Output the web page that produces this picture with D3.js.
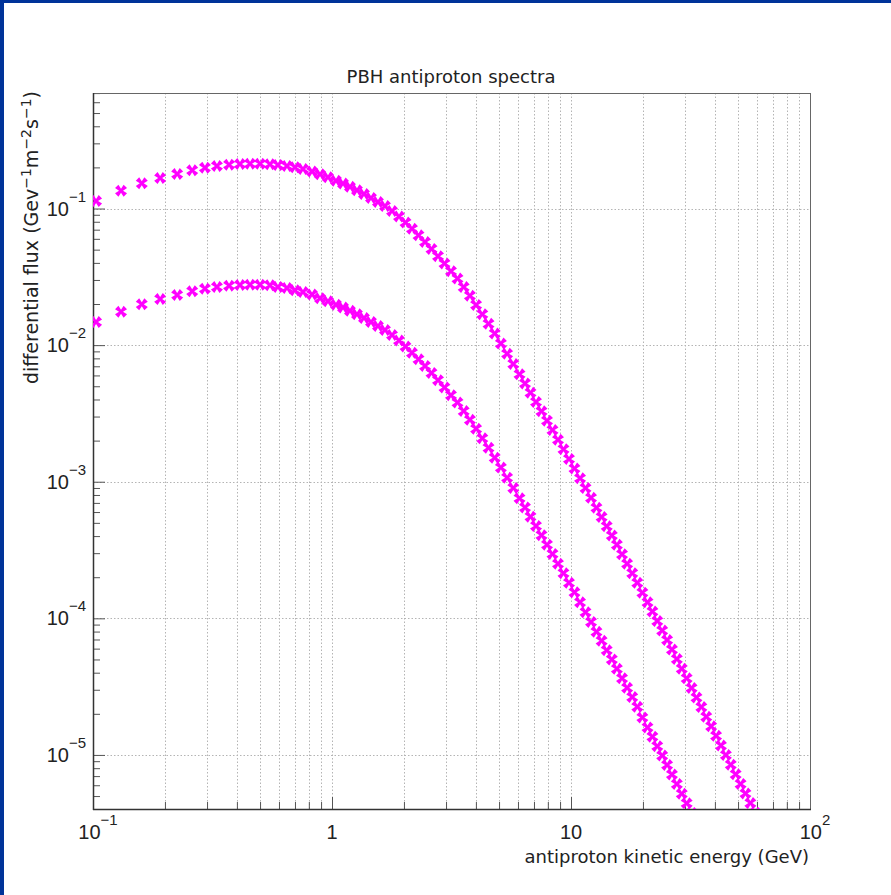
<!DOCTYPE html>
<html>
<head>
<meta charset="utf-8">
<title>PBH antiproton spectra</title>
<style>
    html, body { margin: 0; padding: 0; background: #fff; }
    svg { display: block; }
    .lbl { font-family: "Liberation Sans", Arial, sans-serif; fill: #222; }
    .ttl { font-family: "DejaVu Sans", sans-serif; fill: #222; }
</style>
</head>
<body>
<script src="https://cdn.jsdelivr.net/npm/d3@7"></script>
<script>
    // antiproton kinetic energy (GeV), one value per marker
    var energies = [
        0.103, 0.131, 0.160, 0.191, 0.225, 0.260, 0.294, 0.330, 0.371, 0.412,
        0.454, 0.500, 0.550, 0.594, 0.648, 0.700, 0.756, 0.825, 0.891, 0.962,
        1.039, 1.112, 1.189, 1.272, 1.361, 1.456, 1.557, 1.666, 1.783, 1.907,
        2.030, 2.161, 2.301, 2.450, 2.608, 2.777, 2.956, 3.147, 3.350, 3.557,
        3.776, 4.008, 4.255, 4.517, 4.795, 5.090, 5.403, 5.736, 6.089, 6.420,
        6.769, 7.138, 7.526, 7.936, 8.367, 8.823, 9.303, 9.809, 10.34, 10.91,
        11.50, 12.13, 12.78, 13.43, 14.11, 14.82, 15.56, 16.35, 17.17, 18.04,
        18.94, 19.89, 20.90, 21.91, 22.96, 24.07, 25.24, 26.45, 27.73, 29.07,
        30.48, 31.95, 33.50, 35.11, 36.81, 38.59, 40.46, 42.41, 44.47, 46.62,
        48.87, 51.23, 53.70, 56.30, 59.02
    ];
    // upper spectrum (differential flux)
    var fluxUpper = [
        0.1135, 0.1350, 0.1529, 0.1672, 0.1789, 0.1904, 0.1990, 0.2048, 0.2093, 0.2118,
        0.2128, 0.2128, 0.2113, 0.2085, 0.2048, 0.2003, 0.1946, 0.1866, 0.1780, 0.1692,
        0.1600, 0.1522, 0.1442, 0.1359, 0.1277, 0.1196, 0.1116, 0.1043, 0.0959, 0.0874,
        0.0790, 0.0711, 0.0637, 0.0569, 0.0506, 0.0448, 0.0396, 0.0348, 0.0307, 0.0266,
        0.0230, 0.0197, 0.01684, 0.01432, 0.01214, 0.01026, 0.00865, 0.00729, 0.00612, 0.00524,
        0.00449, 0.00384, 0.00328, 0.00280, 0.00239, 0.00203, 0.00173, 0.00147, 0.00125, 0.00106,
        8.99e-4, 7.62e-4, 6.45e-4, 5.52e-4, 4.72e-4, 4.04e-4, 3.45e-4, 2.94e-4, 2.51e-4, 2.14e-4,
        1.82e-4, 1.54e-4, 1.31e-4, 1.12e-4, 9.55e-5, 8.14e-5, 6.94e-5, 5.91e-5, 5.03e-5, 4.28e-5,
        3.64e-5, 3.09e-5, 2.63e-5, 2.24e-5, 1.90e-5, 1.62e-5, 1.38e-5, 1.17e-5, 9.97e-6, 8.48e-6,
        7.21e-6, 6.13e-6, 5.22e-6, 4.44e-6, 3.77e-6
    ];
    // lower spectrum (same energies, fewer points)
    var fluxLower = [
        0.01476, 0.01756, 0.01989, 0.02175, 0.02327, 0.02476, 0.02588, 0.02664, 0.02722, 0.02755,
        0.02768, 0.02768, 0.02748, 0.02667, 0.02619, 0.02519, 0.02447, 0.02347, 0.02201, 0.02092,
        0.01978, 0.01882, 0.01783, 0.01680, 0.01579, 0.01479, 0.01380, 0.01290, 0.01186, 0.01081,
        0.00977, 0.00879, 0.00788, 0.00704, 0.00626, 0.00554, 0.00490, 0.00430, 0.00380, 0.00329,
        0.00284, 0.00244, 0.00208, 0.00177, 0.00150, 0.00127, 0.00107, 9.01e-4, 7.57e-4, 6.48e-4,
        5.55e-4, 4.75e-4, 4.06e-4, 3.46e-4, 2.96e-4, 2.51e-4, 2.14e-4, 1.82e-4, 1.55e-4, 1.31e-4,
        1.11e-4, 9.42e-5, 7.97e-5, 6.84e-5, 5.84e-5, 5.00e-5, 4.27e-5, 3.64e-5, 3.10e-5, 2.65e-5,
        2.25e-5, 1.88e-5, 1.59e-5, 1.36e-5, 1.16e-5, 9.90e-6, 8.44e-6, 7.19e-6, 6.12e-6, 5.20e-6,
        4.43e-6, 3.76e-6
    ];
    // axis ranges and labelled ticks
    var xRange = [0.1, 100];
    var yRange = [4.02e-6, 0.701];
    var xTicks = [0.1, 1, 10, 100];
    var xTickLabels = [["10", "\u22121"], ["1", ""], ["10", ""], ["10", "2"]];
    var yTicks = [1e-5, 1e-4, 1e-3, 1e-2, 1e-1];
    var yTickLabels = [["10", "\u22125"], ["10", "\u22124"], ["10", "\u22123"], ["10", "\u22122"], ["10", "\u22121"]];

    var width = 891, height = 895;
    var frame = {left: 93, top: 93, right: 810, bottom: 809};
    var markerColor = "#ff00ff";

    var svg = d3.select("body").append("svg")
            .attr("width", width)
            .attr("height", height);

    svg.append("rect").attr("width", width).attr("height", height).attr("fill", "#fff");
    // blue edge of the original window
    svg.append("rect").attr("x", 0).attr("y", 0).attr("width", width).attr("height", 3).attr("fill", "#003399");
    svg.append("rect").attr("x", 0).attr("y", 0).attr("width", 4).attr("height", height).attr("fill", "#003399");

    var xScale = d3.scaleLog().domain(xRange).range([frame.left, frame.right]);
    var yScale = d3.scaleLog().domain(yRange).range([frame.bottom, frame.top]);

    // minor tick values 2..9 x 10^k inside the ranges
    function minorValues(range) {
        var out = [];
        var lo = Math.floor(Math.log10(range[0])), hi = Math.ceil(Math.log10(range[1]));
        for (var k = lo; k < hi; k++) {
            for (var m = 2; m <= 9; m++) {
                var v = m * Math.pow(10, k);
                if (v > range[0] && v < range[1]) out.push(v);
            }
        }
        return out;
    }
    var xMinor = minorValues(xRange);
    var yMinor = minorValues(yRange);

    // grid (dotted)
    var grid = svg.append("g").attr("stroke", "#b4b4b4").attr("stroke-dasharray", "1.5,2").attr("stroke-width", 1);
    grid.selectAll(".vgrid")
            .data(xMinor.concat([1, 10]))
            .enter()
            .append("line")
            .attr("class", "vgrid")
            .attr("x1", function (d) { return Math.round(xScale(d)) + 0.5; })
            .attr("x2", function (d) { return Math.round(xScale(d)) + 0.5; })
            .attr("y1", frame.top)
            .attr("y2", frame.bottom);
    grid.selectAll(".hgrid")
            .data(yTicks)
            .enter()
            .append("line")
            .attr("class", "hgrid")
            .attr("x1", frame.left)
            .attr("x2", frame.right)
            .attr("y1", function (d) { return Math.round(yScale(d)) + 0.5; })
            .attr("y2", function (d) { return Math.round(yScale(d)) + 0.5; });

    // ticks drawn with d3 axes, pointing into the frame
    function tickAxis(axis, values, size, transform) {
        var g = svg.append("g")
                .attr("transform", transform)
                .call(axis.tickValues(values).tickSize(-size).tickFormat(""));
        g.select(".domain").remove();
        g.selectAll("line").attr("stroke", "#555");
        return g;
    }
    tickAxis(d3.axisBottom(xScale), xMinor, 7, "translate(0," + frame.bottom + ")");
    tickAxis(d3.axisBottom(xScale), xTicks, 12, "translate(0," + frame.bottom + ")");
    tickAxis(d3.axisLeft(yScale), yMinor, 7, "translate(" + frame.left + ",0)");
    tickAxis(d3.axisLeft(yScale), yTicks, 12, "translate(" + frame.left + ",0)");

    // frame
    svg.append("rect")
            .attr("x", frame.left + 0.5)
            .attr("y", frame.top + 0.5)
            .attr("width", frame.right - frame.left)
            .attr("height", frame.bottom - frame.top)
            .attr("fill", "none")
            .attr("stroke", "#666")
            .attr("stroke-width", 1);
    svg.append("line")
            .attr("x1", frame.left).attr("x2", frame.right + 1)
            .attr("y1", frame.bottom + 0.5).attr("y2", frame.bottom + 0.5)
            .attr("stroke", "#333").attr("stroke-width", 1.5);
    svg.append("line")
            .attr("x1", frame.left + 0.5).attr("x2", frame.left + 0.5)
            .attr("y1", frame.top).attr("y2", frame.bottom + 1)
            .attr("stroke", "#333").attr("stroke-width", 1.5);

    // markers: thick X, clipped to the frame
    svg.append("clipPath").attr("id", "frameClip")
            .append("rect")
            .attr("x", frame.left).attr("y", frame.top)
            .attr("width", frame.right - frame.left)
            .attr("height", frame.bottom - frame.top);

    var h = 6, a = 3.4, c = 2;
    var markerPath = "M" + [[-h, -h + a], [-h + a, -h], [0, -c], [h - a, -h], [h, -h + a], [c, 0],
        [h, h - a], [h - a, h], [0, c], [-h + a, h], [-h, h - a], [-c, 0]].map(function (p) {
        return p.join(",");
    }).join("L") + "Z";

    function drawSeries(values, cls) {
        var pts = values.map(function (v, i) { return {e: energies[i], f: v}; })
                .filter(function (d) { return d.f >= yRange[0] * 0.8; });
        svg.append("g")
                .attr("clip-path", "url(#frameClip)")
                .selectAll("." + cls)
                .data(pts)
                .enter()
                .append("path")
                .attr("class", cls)
                .attr("d", markerPath)
                .attr("fill", markerColor)
                .attr("transform", function (d) {
                    return "translate(" + xScale(d.e) + "," + yScale(d.f) + ")";
                });
    }
    drawSeries(fluxUpper, "upper");
    drawSeries(fluxLower, "lower");

    // tick labels
    var xl = svg.selectAll(".xlab")
            .data(xTicks)
            .enter()
            .append("text")
            .attr("class", "lbl xlab")
            .attr("x", function (d, i) { return xScale(d) + (xTickLabels[i][1] ? 5 : 0); })
            .attr("y", 839)
            .attr("text-anchor", "middle")
            .attr("font-size", 20);
    xl.append("tspan").text(function (d, i) { return xTickLabels[i][0]; });
    xl.append("tspan")
            .attr("dy", -14)
            .attr("font-size", 15)
            .text(function (d, i) { return xTickLabels[i][1]; });

    var yl = svg.selectAll(".ylab")
            .data(yTicks)
            .enter()
            .append("text")
            .attr("class", "lbl ylab")
            .attr("x", 86)
            .attr("y", function (d) { return yScale(d) + 7; })
            .attr("text-anchor", "end")
            .attr("font-size", 20);
    yl.append("tspan").text(function (d, i) { return yTickLabels[i][0]; });
    yl.append("tspan")
            .attr("dy", -14)
            .attr("font-size", 15)
            .text(function (d, i) { return yTickLabels[i][1]; });

    // titles
    svg.append("text")
            .attr("class", "ttl")
            .attr("x", 451)
            .attr("y", 83)
            .attr("text-anchor", "middle")
            .attr("font-size", 18)
            .text("PBH antiproton spectra");

    svg.append("text")
            .attr("class", "ttl")
            .attr("x", frame.right - 1)
            .attr("y", 863)
            .attr("text-anchor", "end")
            .attr("font-size", 18)
            .text("antiproton kinetic energy (GeV)");

    var yt = svg.append("text")
            .attr("class", "ttl")
            .attr("transform", "translate(38," + (frame.top - 2) + ") rotate(-90)")
            .attr("text-anchor", "end")
            .attr("font-size", 19);
    var yParts = [["differential flux (Gev", 0], ["\u22121", 1], ["m", 0], ["\u22122", 1], ["s", 0], ["\u22121", 1], [")", 0]];
    var prevSup = 0;
    yParts.forEach(function (p) {
        yt.append("tspan")
                .attr("dy", (p[1] - prevSup) * -7)
                .attr("font-size", p[1] ? 14 : 19)
                .text(p[0]);
        prevSup = p[1];
    });
</script>
</body>
</html>
